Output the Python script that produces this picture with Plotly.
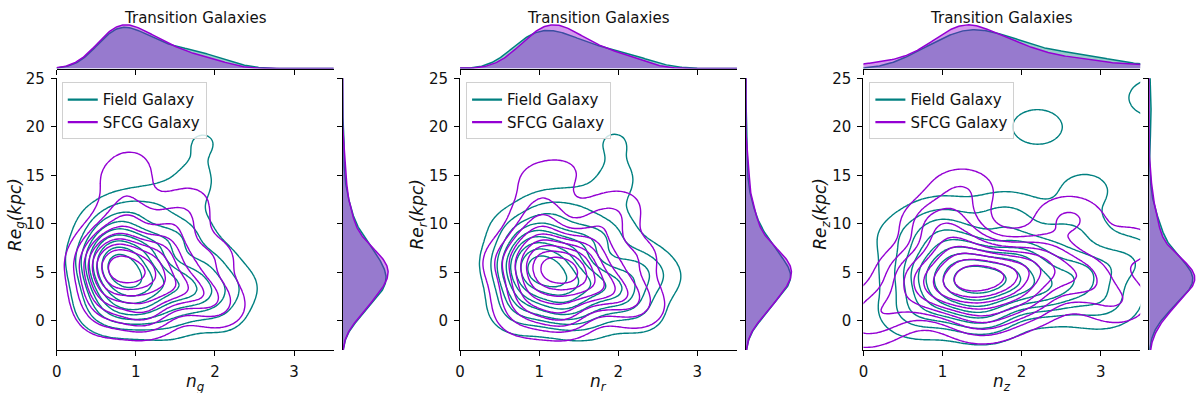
import numpy as np
import plotly.graph_objects as go

# ---------------- data (estimated weighted sample points: n, Re[kpc], weight) ----------------
bands = ["g", "r", "z"]

g_field_n  = [0.80, 1.10, 0.70, 0.75, 1.20, 1.50, 1.00, 0.60, 1.80, 1.90, 1.60, 0.65, 1.40, 2.20, 0.90, 0.60, 1.30, 1.75, 1.85, 2.10, 1.70]
g_field_re = [5.5, 4.0, 3.5, 8.0, 7.5, 4.0, 1.5, 6.5, 2.5, 6.0, 9.0, 1.0, 0.5, 3.5, 11.0, 10.0, 12.0, 15.0, 18.5, 0.5, 13.0]
g_field_w  = [4.0, 3.0, 2.0, 2.0, 2.0, 2.0, 2.0, 1.5, 1.5, 1.0, 1.0, 1.0, 1.0, 0.8, 1.0, 0.6, 0.6, 0.35, 0.4, 0.5, 0.3]

g_sfcg_n  = [0.80, 1.10, 0.65, 0.75, 1.30, 1.50, 1.10, 0.55, 1.90, 1.90, 1.50, 0.90, 0.85, 0.95, 1.70, 0.60, 2.10]
g_sfcg_re = [5.5, 4.5, 3.0, 8.0, 7.0, 3.5, 1.0, 6.0, 2.5, 6.5, 10.0, 11.0, 14.5, 16.5, 12.5, 0.5, 1.0]
g_sfcg_w  = [4.0, 3.0, 2.0, 2.0, 2.0, 2.0, 2.0, 1.2, 1.2, 0.8, 1.0, 1.0, 0.6, 0.3, 0.4, 0.7, 0.4]

r_field_n  = [1.05, 1.35, 0.85, 0.95, 1.45, 1.75, 1.25, 0.70, 2.05, 2.20, 1.85, 0.75, 1.60, 2.45, 1.10, 0.70, 1.50, 2.00, 1.95, 2.30, 1.90]
r_field_re = [5.5, 4.0, 3.5, 8.0, 7.5, 4.0, 1.5, 6.0, 2.5, 6.0, 9.0, 1.0, 0.5, 4.5, 11.0, 9.5, 11.5, 15.0, 18.5, 0.5, 13.0]
r_field_w  = [4.0, 3.0, 2.0, 2.0, 2.0, 2.0, 2.0, 1.5, 1.5, 1.0, 1.0, 1.0, 1.0, 0.8, 1.0, 0.6, 0.6, 0.35, 0.4, 0.5, 0.3]

r_sfcg_n  = [1.15, 1.40, 0.90, 1.00, 1.55, 1.75, 1.30, 0.70, 2.10, 2.15, 1.80, 1.05, 1.00, 1.35, 2.05, 0.80, 2.30]
r_sfcg_re = [5.5, 4.5, 3.0, 8.0, 7.0, 3.5, 1.0, 6.0, 2.5, 6.5, 10.0, 11.0, 14.5, 15.5, 12.0, 0.5, 1.0]
r_sfcg_w  = [4.0, 3.0, 2.0, 2.0, 2.0, 2.0, 2.0, 1.2, 1.2, 0.8, 1.0, 1.0, 0.5, 0.3, 0.4, 0.7, 0.4]

z_field_n  = [1.40, 1.80, 1.10, 1.20, 2.00, 2.30, 1.50, 0.80, 2.70, 3.00, 0.70, 1.00, 1.80, 2.60, 3.30, 2.80, 2.20, 3.70, 0.60]
z_field_re = [4.5, 4.0, 3.0, 7.0, 6.5, 3.0, 1.0, 5.0, 5.0, 2.0, 1.0, 10.0, 10.5, 9.0, 6.0, 13.5, 20.0, 23.0, 8.5]
z_field_w  = [4.0, 3.0, 2.0, 2.0, 2.0, 2.0, 2.0, 1.5, 1.5, 1.0, 1.0, 1.0, 1.0, 0.8, 0.8, 0.4, 0.45, 0.5, 0.6]

z_sfcg_n  = [1.40, 1.80, 1.00, 1.20, 2.20, 2.00, 1.50, 0.70, 2.70, 3.20, 0.35, 0.00, 1.00, 1.25, 2.60, 3.40]
z_sfcg_re = [4.3, 5.0, 3.0, 7.0, 6.0, 2.5, 0.8, 5.0, 4.5, 2.0, 1.5, -0.5, 10.0, 13.5, 10.5, 8.0]
z_sfcg_w  = [4.0, 2.5, 2.0, 2.0, 1.5, 1.5, 1.5, 1.2, 1.2, 0.6, 0.8, 0.6, 1.2, 0.6, 0.7, 0.4]

bandwidth_n  = [0.25, 0.25, 0.30]
bandwidth_re = [1.6, 1.6, 1.7]

series = {
    "g": [(g_field_n, g_field_re, g_field_w), (g_sfcg_n, g_sfcg_re, g_sfcg_w)],
    "r": [(r_field_n, r_field_re, r_field_w), (r_sfcg_n, r_sfcg_re, r_sfcg_w)],
    "z": [(z_field_n, z_field_re, z_field_w), (z_sfcg_n, z_sfcg_re, z_sfcg_w)],
}
names = ["Field Galaxy", "SFCG Galaxy"]
colors = ["#008080", "#9400D3"]
fills = ["rgba(0,128,128,0.4)", "rgba(148,0,211,0.4)"]

x_ticks = [0, 1, 2, 3]
y_ticks = [0, 5, 10, 15, 20, 25]
title_text = "Transition Galaxies"

# ---------------- layout geometry (pixels) ----------------
W, H = 1200, 393
main_x0 = [52, 457, 862]
main_w = 278
main_top, main_bot = 71, 349
marg_top, marg_bot = 14, 61
rmarg_gap, rmarg_w = 9, 48
legend_x = [57, 463, 868]
ylab_x = [11, 415, 820]

def px(v): return v / W
def py(v): return 1 - v / H

gx = np.linspace(-1.5, 5.0, 261)
gy = np.linspace(-10, 34, 221)
GX, GY = np.meshgrid(gx, gy)
lx = np.linspace(-1.0, 4.5, 400)
ly = np.linspace(-8, 32, 400)

def kde2(n, re, w, bx, by):
    n, re, w = map(np.asarray, (n, re, w))
    D = np.zeros_like(GX)
    for a, b, c in zip(n, re, w):
        D += c * np.exp(-0.5 * (((GX - a) / bx) ** 2 + ((GY - b) / by) ** 2))
    flat = D.ravel()
    order = np.argsort(flat)
    cum = np.cumsum(flat[order])
    cum /= cum[-1]
    P = np.empty_like(flat)
    P[order] = cum
    return P.reshape(D.shape)

def kde1(grid, centers, w, bw):
    centers, w = np.asarray(centers), np.asarray(w)
    d = np.zeros_like(grid)
    for a, c in zip(centers, w):
        d += c * np.exp(-0.5 * ((grid - a) / bw) ** 2) / (bw * np.sqrt(2 * np.pi))
    return d / w.sum()

fig = go.Figure()
layout = {}
annotations = []
nlev = 10
thresh = 0.05
step = (1 - thresh) / (nlev - 1)

for p, band in enumerate(bands):
    ia, ib, ic = 3 * p + 1, 3 * p + 2, 3 * p + 3
    def ax(i): return "" if i == 1 else str(i)
    bx, by = bandwidth_n[p], bandwidth_re[p]
    leg = "legend" if p == 0 else f"legend{p+1}"

    top_max, right_max = 0, 0
    for s, (n, re, w) in enumerate(series[band]):
        P = kde2(n, re, w, bx, by)
        fig.add_trace(go.Contour(
            x=gx, y=gy, z=P, xaxis="x" + ax(ia), yaxis="y" + ax(ia),
            contours=dict(start=thresh, end=thresh + step * (nlev - 2) + 1e-6, size=step, coloring="lines"),
            colorscale=[[0, colors[s]], [1, colors[s]]], showscale=False,
            line=dict(width=1.4, smoothing=1.0), hoverinfo="skip", showlegend=False))
        dn = kde1(lx, n, w, bx)
        dr = kde1(ly, re, w, by)
        top_max = max(top_max, dn[(lx >= 0) & (lx <= 3.5)].max())
        right_max = max(right_max, dr.max())
        fig.add_trace(go.Scatter(x=lx, y=dn, xaxis="x" + ax(ib), yaxis="y" + ax(ib), mode="lines",
                                 fill="tozeroy", fillcolor=fills[s], line=dict(color=colors[s], width=1.5),
                                 hoverinfo="skip", showlegend=False))
        fig.add_trace(go.Scatter(x=dr, y=ly, xaxis="x" + ax(ic), yaxis="y" + ax(ic), mode="lines",
                                 fill="tozerox", fillcolor=fills[s], line=dict(color=colors[s], width=1.5),
                                 hoverinfo="skip", showlegend=False))
        fig.add_trace(go.Scatter(x=[None], y=[None], xaxis="x" + ax(ia), yaxis="y" + ax(ia), mode="lines",
                                 line=dict(color=colors[s], width=2.2), name=names[s], legend=leg))

    x0 = main_x0[p]
    axis_common = dict(showline=True, linecolor="black", linewidth=1, ticks="outside", ticklen=5,
                       tickcolor="black", tickwidth=1, showgrid=False, zeroline=False,
                       tickfont=dict(family="DejaVu Sans", size=15, color="#111"))
    layout["xaxis" + ax(ia)] = dict(domain=[px(x0), px(x0 + main_w)], range=[0, 3.5], tickvals=x_ticks,
                                    anchor="y" + ax(ia), ticklabelstandoff=3, **axis_common)
    layout["yaxis" + ax(ia)] = dict(domain=[py(main_bot), py(main_top)], range=[-3, 25], tickvals=y_ticks,
                                    anchor="x" + ax(ia), ticklabelstandoff=3, **axis_common)
    layout["xaxis" + ax(ib)] = dict(domain=[px(x0), px(x0 + main_w)], range=[0, 3.5], tickvals=x_ticks,
                                    anchor="y" + ax(ib), showticklabels=False, **axis_common)
    layout["yaxis" + ax(ib)] = dict(domain=[py(marg_bot), py(marg_top)], range=[0, top_max * 1.05],
                                    anchor="x" + ax(ib), visible=False)
    rx0 = x0 + main_w + rmarg_gap
    layout["xaxis" + ax(ic)] = dict(domain=[px(rx0), px(rx0 + rmarg_w)], range=[0, right_max * 1.05],
                                    anchor="y" + ax(ic), visible=False)
    layout["yaxis" + ax(ic)] = dict(domain=[py(main_bot), py(main_top)], range=[-3, 25], tickvals=y_ticks,
                                    anchor="x" + ax(ic), showticklabels=False, **axis_common)
    layout[leg] = dict(x=px(legend_x[p]), y=py(75), xanchor="left", yanchor="top", xref="paper", yref="paper",
                       bgcolor="rgba(255,255,255,0.8)", bordercolor="#d0d0d0", borderwidth=1,
                       font=dict(family="DejaVu Sans", size=15, color="#111"), itemwidth=30)

    cx = x0 + main_w / 2
    annotations.append(dict(x=px(cx), y=py(9), xref="paper", yref="paper", text=title_text, showarrow=False,
                            font=dict(family="DejaVu Sans", size=15, color="#111"), xanchor="center", yanchor="middle"))
    annotations.append(dict(x=px(cx), y=py(382), xref="paper", yref="paper",
                            text=f"<i>n</i><sub><i>{band}</i></sub>", showarrow=False,
                            font=dict(family="DejaVu Sans", size=17, color="#111"), xanchor="center", yanchor="middle"))
    annotations.append(dict(x=px(ylab_x[p]), y=py((main_top + main_bot) / 2), xref="paper", yref="paper",
                            text=f"<i>Re</i><sub><i>{band}</i></sub><i>(kpc)</i>", showarrow=False, textangle=-90,
                            font=dict(family="DejaVu Sans", size=17, color="#111"), xanchor="center", yanchor="middle"))

fig.update_layout(width=W, height=H, margin=dict(l=0, r=0, t=0, b=0), plot_bgcolor="white",
                  paper_bgcolor="white", annotations=annotations, **layout)
fig.write_html("out.html", config={"displayModeBar": False},
               post_script="document.body.style.margin='0';document.body.style.overflow='hidden';")
